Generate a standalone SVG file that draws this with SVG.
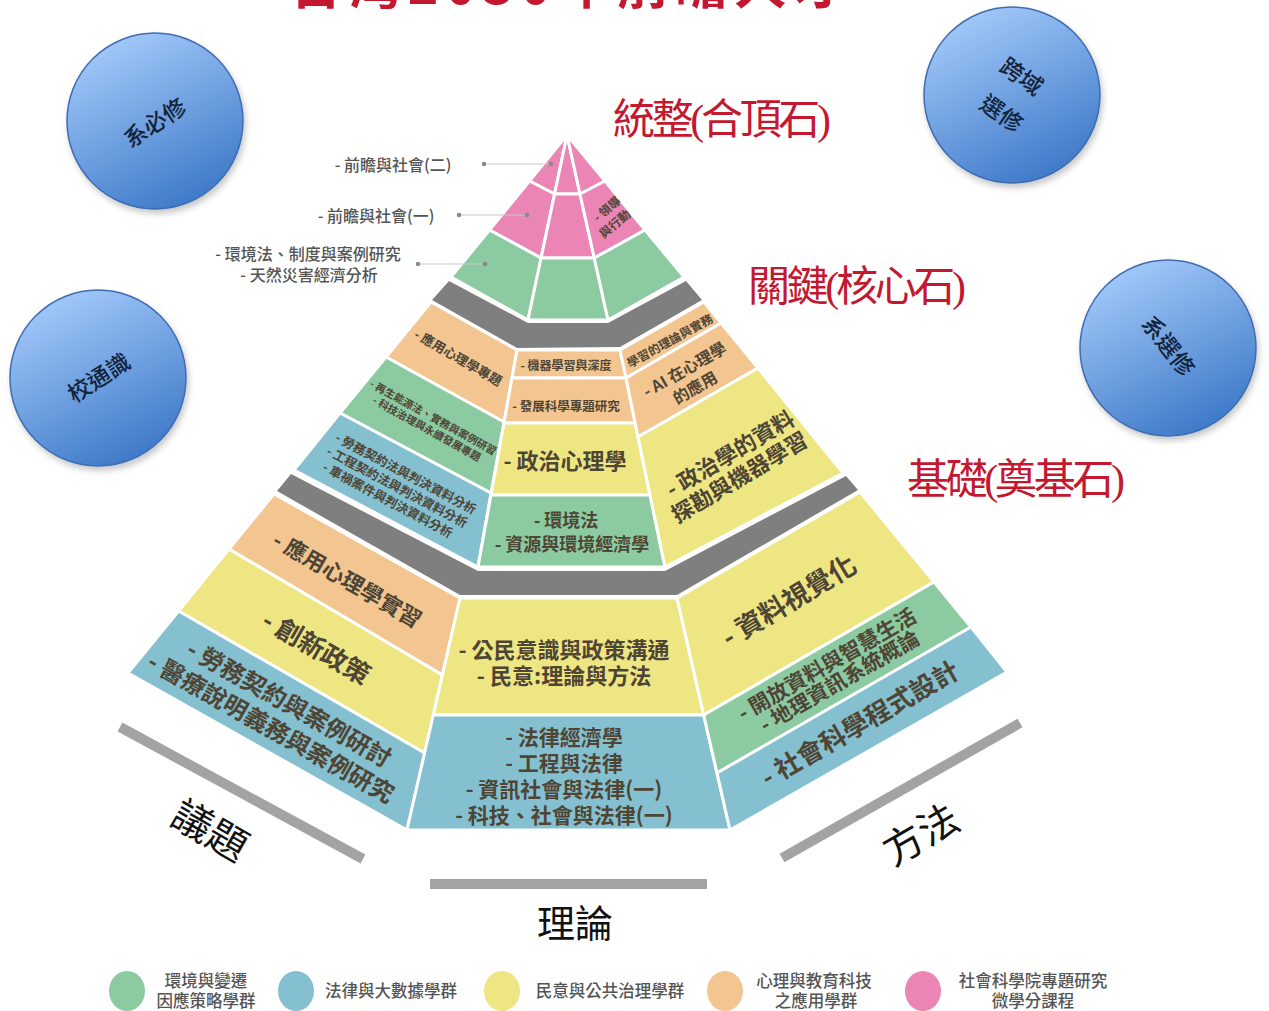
<svg xmlns="http://www.w3.org/2000/svg" width="1269" height="1011" viewBox="0 0 1269 1011">
<defs>
<style>
.pk{fill:#ea85b5}.gn{fill:#8ccaa2}.bl{fill:#84c0d0}.ye{fill:#eee683}.or{fill:#f3c591}.gy{fill:#7f7f7f}
.f{stroke:#fff;stroke-width:3;stroke-linejoin:round}
.t{font-family:"Noto Sans CJK TC","Noto Sans CJK SC",sans-serif;font-weight:700;fill:#4e4535;text-anchor:middle}
.lb{font-family:"Noto Sans CJK TC","Noto Sans CJK SC",sans-serif;font-weight:500;fill:#555;font-size:16px;text-anchor:middle}
.rt{font-family:"Liberation Serif","Noto Sans CJK TC",serif;fill:#c3182f;font-size:42px}
.ax{font-family:"Liberation Serif","Noto Sans CJK TC",serif;fill:#111;text-anchor:middle;font-size:40px}
.axl{stroke:#a3a3a3;stroke-width:10}
.ball{fill:url(#bg);stroke:#3f6db0;stroke-width:1.5}
.bt{font-family:"Noto Sans CJK TC","Noto Sans CJK SC",sans-serif;font-size:23px;fill:#13233a;text-anchor:middle;font-weight:500}
.ld{stroke:#c8c8c8;stroke-width:1.2;fill:none}
.dt{fill:#8a8a8a}
.lg{font-family:"Noto Sans CJK TC","Noto Sans CJK SC",sans-serif;font-size:16.5px;fill:#555;font-weight:500;text-anchor:middle}
</style>
<linearGradient id="bg" x1="0.25" y1="0" x2="0.75" y2="1"><stop offset="0" stop-color="#a5cbfb"/><stop offset="1" stop-color="#3a76c6"/></linearGradient>
<filter id="sh" x="-20%" y="-20%" width="140%" height="140%"><feDropShadow dx="2" dy="4" stdDeviation="3" flood-color="#000" flood-opacity="0.22"/></filter>
</defs>
<rect width="1269" height="1011" fill="#fff"/>

<g id="title"><text x="290" y="4" textLength="555" lengthAdjust="spacing" style="font-family:'Noto Sans CJK TC',sans-serif;font-weight:700;font-size:52px;fill:#c3182f">台灣2030年前瞻人才</text></g>

<g id="circles">
<g id="c-xibixiu"><circle cx="155" cy="121" r="88" class="ball" filter="url(#sh)"/><text class="bt" transform="translate(155,123) rotate(-33)" y="8">系必修</text></g>
<g id="c-kuayu"><circle cx="1012" cy="95" r="88" class="ball" filter="url(#sh)"/><g transform="translate(1011,95) rotate(35)"><text class="bt" x="-2" y="-13">跨域</text><text class="bt" x="3" y="29">選修</text></g></g>
<g id="c-xiaotongshi"><circle cx="98" cy="378" r="88" class="ball" filter="url(#sh)"/><text class="bt" transform="translate(99,378) rotate(-33)" y="8">校通識</text></g>
<g id="c-xixuanxiu"><circle cx="1168" cy="348" r="88" class="ball" filter="url(#sh)"/><text class="bt" transform="translate(1168,346) rotate(52)" y="8">系選修</text></g>
</g>

<g id="stage-titles">
<text class="rt" x="613" y="134" textLength="218" lengthAdjust="spacing">統整(合頂石)</text>
<text class="rt" x="748" y="301" textLength="218" lengthAdjust="spacing">關鍵(核心石)</text>
<text class="rt" x="907" y="494" textLength="218" lengthAdjust="spacing">基礎(奠基石)</text>
</g>

<g id="bands">
<polygon class="gy" points="449,281 528,323 608,323 686,281 702,300 620,347 517,348 432,300"/>
<polygon class="gy" points="291,474 478,571 665,571 846,476 858,490 677,595 460,595 277,491"/>
</g>

<g id="tier-top">
<polygon class="pk f" points="567,135 529.5,181 554.6,194"/>
<polygon class="pk f" points="529.5,181 489.5,230 541.1,258 554.6,194"/>
<polygon class="gn f" points="489.5,230 451,277 528,320 541.1,258"/>
<polygon class="pk f" points="567,135 554.6,194 580,194"/>
<polygon class="pk f" points="554.6,194 541.1,258 594.3,258 580,194"/>
<polygon class="gn f" points="541.1,258 528,320 608,320 594.3,258"/>
<polygon class="pk f" points="567,135 580,194 605,181"/>
<polygon class="pk f" points="580,194 594.3,258 645,230 605,181"/>
<polygon class="gn f" points="594.3,258 608,320 684,277 645,230"/>
<g transform="translate(611,216.5) rotate(-40)" class="t" style="font-size:12px"><text x="1.8" y="-4">- 領導</text><text x="-1.8" y="12.5">與行動</text></g>
</g>

<g id="tier-middle">
<polygon class="or f" points="431,302 517,350 504,422 386,357"/>
<polygon class="gn f" points="386,357 504,422 491,493 340,413"/>
<polygon class="bl f" points="340,413 491,493 478,567 294,470"/>
<polygon class="or f" points="517,350 620,350 626,378 512,378"/>
<polygon class="or f" points="512,378 626,378 635,423 504,423"/>
<polygon class="ye f" points="504,423 635,423 650,495 491,495"/>
<polygon class="gn f" points="491,495 650,495 665,567 478,567"/>
<polygon class="or f" points="620,350 704,302 721,323 626,378"/>
<polygon class="or f" points="626,378 721,323 758,368 638,437"/>
<polygon class="ye f" points="638,437 758,368 843,473 665,567"/>
<text class="t" font-size="13" transform="translate(458,358) rotate(30)" y="4.5">- 應用心理學專題</text>
<g class="t" style="font-size:10.5px" transform="translate(430,423) rotate(29)"><text y="-2.6">- 再生能源法、實務與案例研習</text><text y="10.4">- 科技治理與永續發展專題</text></g>
<g class="t" style="font-size:12.5px" transform="translate(397,487) rotate(28)"><text x="1.5" y="-11.6">- 勞務契約法與判決資料分析</text><text y="4.4">- 工程契約法與判決資料分析</text><text x="-2" y="20.4">- 車禍案件與判決資料分析</text></g>
<text class="t" font-size="12" x="566" y="370">- 機器學習與深度</text>
<text class="t" font-size="12" transform="translate(670,341) rotate(-29)" y="4.2">學習的理論與實務</text>
<text class="t" font-size="12.5" x="566" y="411">- 發展科學專題研究</text>
<g class="t" style="font-size:16px" transform="translate(690,379) rotate(-30)"><text y="-5">- AI 在心理學</text><text y="16">的應用</text></g>
<text class="t" font-size="22" x="565" y="469">- 政治心理學</text>
<g class="t" style="font-size:22px" transform="translate(735,466) rotate(-31)"><text x="2" y="-5">- 政治學的資料</text><text x="-2" y="20">探勘與機器學習</text></g>
<text class="t" font-size="18" x="566" y="527">- 環境法</text>
<text class="t" font-size="18" x="572" y="551">- 資源與環境經濟學</text>
</g>

<g id="tier-bottom">
<polygon class="or f" points="274,494 460,598 442.4,675 229,549"/>
<polygon class="ye f" points="229,549 442.4,675 424.6,753 178.6,611"/>
<polygon class="bl f" points="178.6,611 424.6,753 407,830 128,673"/>
<polygon class="ye f" points="460,598 677,598 703.7,715 433.3,715"/>
<polygon class="bl f" points="433.3,715 703.7,715 730,830 407,830"/>
<polygon class="ye f" points="677,598 860,492 934,582 703.7,715"/>
<polygon class="gn f" points="703.7,715 934,582 971,627 717,773"/>
<polygon class="bl f" points="717,773 971,627 1007,672 730,830"/>
<text class="t" font-size="22" transform="translate(347,580) rotate(30)" y="7.7">- 應用心理學實習</text>
<text class="t" font-size="26" transform="translate(316,648) rotate(30)" y="9">- 創新政策</text>
<g class="t" style="font-size:24px" transform="translate(280,716) rotate(29.5)"><text x="2" y="-6.6">- 勞務契約與案例研討</text><text x="-2" y="23.4">- 醫療說明義務與案例研究</text></g>
<text class="t" font-size="22" x="564" y="658">- 公民意識與政策溝通</text>
<text class="t" font-size="22" x="564" y="684">- 民意:理論與方法</text>
<text class="t" font-size="21" x="564" y="745">- 法律經濟學</text>
<text class="t" font-size="21" x="564" y="771">- 工程與法律</text>
<text class="t" font-size="21" x="564" y="797">- 資訊社會與法律(一)</text>
<text class="t" font-size="21" x="564" y="823">- 科技、社會與法律(一)</text>
<text class="t" font-size="27" transform="translate(789,601) rotate(-31)" y="9.5">- 資料視覺化</text>
<g class="t" style="font-size:21px" transform="translate(833,673) rotate(-30)"><text x="-1" y="-3">- 開放資料與智慧生活</text><text x="1.5" y="18">- 地理資訊系統概論</text></g>
<text class="t" font-size="26" transform="translate(860,724) rotate(-30)" y="9">- 社會科學程式設計</text>
</g>

<g id="top-labels">
<text class="lb" x="393" y="171">- 前瞻與社會(二)</text>
<text class="lb" x="376" y="222">- 前瞻與社會(一)</text>
<text class="lb" x="308" y="260">- 環境法、制度與案例研究</text>
<text class="lb" x="309" y="281">- 天然災害經濟分析</text>
</g>

<g id="connectors">
<line class="ld" x1="484" y1="164" x2="551" y2="164"/>
<line class="ld" x1="459" y1="215" x2="527" y2="215"/>
<line class="ld" x1="418" y1="264" x2="485" y2="264"/>
<circle class="dt" cx="484" cy="164" r="2.3"/><circle class="dt" cx="551" cy="164" r="2.3"/>
<circle class="dt" cx="459" cy="215" r="2.3"/><circle class="dt" cx="527" cy="215" r="2.3"/>
<circle class="dt" cx="418" cy="264" r="2.3"/><circle class="dt" cx="485" cy="264" r="2.3"/>
</g>

<g id="axes">
<line class="axl" x1="120" y1="727" x2="363" y2="859"/>
<rect x="430" y="879" width="277" height="10" fill="#a3a3a3"/>
<line class="axl" x1="782" y1="858" x2="1020" y2="723"/>
<text class="ax" transform="translate(210,831) rotate(30)" y="14">議題</text>
<text class="ax" x="575" y="937" style="font-size:38px">理論</text>
<text class="ax" transform="translate(921,835) rotate(-30)" y="14">方法</text>
</g>

<g id="legend">
<g id="lg-green"><ellipse cx="127" cy="991" rx="18" ry="20" class="gn"/><text class="lg" x="206" y="987">環境與變遷</text><text class="lg" x="206" y="1007">因應策略學群</text></g>
<g id="lg-blue"><ellipse cx="296" cy="991" rx="18" ry="20" class="bl"/><text class="lg" x="391" y="997">法律與大數據學群</text></g>
<g id="lg-yellow"><ellipse cx="502" cy="991" rx="18" ry="20" class="ye"/><text class="lg" x="610" y="997">民意與公共治理學群</text></g>
<g id="lg-orange"><ellipse cx="725" cy="991" rx="18" ry="20" class="or"/><text class="lg" x="814" y="987">心理與教育科技</text><text class="lg" x="816" y="1007">之應用學群</text></g>
<g id="lg-pink"><ellipse cx="923" cy="991" rx="18" ry="20" class="pk"/><text class="lg" x="1033" y="987">社會科學院專題研究</text><text class="lg" x="1033" y="1007">微學分課程</text></g>
</g>
</svg>
